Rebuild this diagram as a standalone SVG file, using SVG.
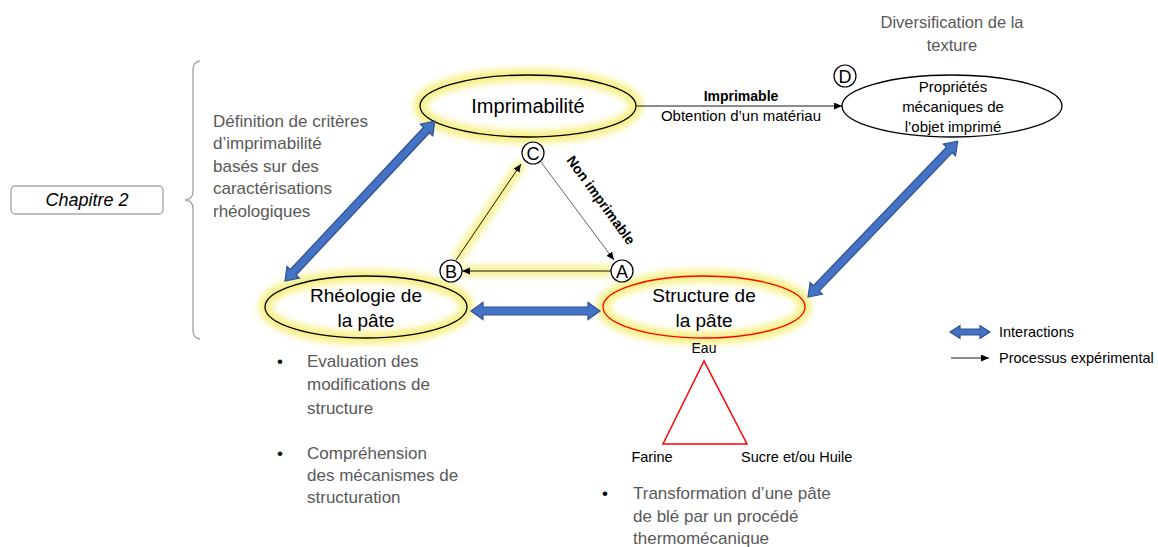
<svg xmlns="http://www.w3.org/2000/svg" width="1158" height="547" viewBox="0 0 1158 547">
<style>
text{font-family:"Liberation Sans",Arial,sans-serif;}
.node{font-size:19px;fill:#000;text-anchor:middle;}
.small{font-size:15px;fill:#000;text-anchor:middle;}
.gray{font-size:17px;fill:#595959;}
.grayc{font-size:16.5px;fill:#595959;text-anchor:middle;}
.lbl{font-size:14.5px;fill:#000;}
.letter{font-size:18px;fill:#000;text-anchor:middle;}
.ell{fill:none;stroke:#000;stroke-width:1.3;}
.glow{fill:none;stroke:#F3EC62;stroke-width:13;opacity:0.75;filter:url(#blur);}
.glowl{fill:none;stroke:#F3EC62;stroke-width:11;opacity:0.7;filter:url(#blur);}
.circ{fill:#fff;stroke:#000;stroke-width:1.2;}
.blue{fill:#4472C4;stroke:#2F528F;stroke-width:1.2;}
.thin{fill:none;stroke:#000;stroke-width:0.9;marker-end:url(#ah);}
</style>
<defs>
<filter id="blur" filterUnits="userSpaceOnUse" x="0" y="0" width="1158" height="547"><feGaussianBlur stdDeviation="3.2"/></filter>
<marker id="ah" markerUnits="userSpaceOnUse" markerWidth="9" markerHeight="8" refX="8" refY="3.5" orient="auto"><path d="M0,0 L8,3.5 L0,7 z" fill="#000"/></marker>
</defs>

<!-- glows -->
<g id="glows">
<ellipse class="glow" cx="528" cy="106" rx="108" ry="31"/>
<ellipse class="glow" cx="366" cy="307" rx="101" ry="31"/>
<ellipse class="glow" cx="704" cy="307" rx="101" ry="31"/>
<line class="glowl" x1="611" y1="271" x2="462" y2="271"/>
<line class="glowl" x1="456" y1="260" x2="522" y2="163"/>
</g>

<!-- Chapitre 2 -->
<g id="chapitre">
<rect x="11" y="186" width="152" height="28" rx="4" fill="#fff" stroke="#A6A6A6" stroke-width="1.3"/>
<text x="87" y="206" style="font-size:18px;font-style:italic;fill:#000;text-anchor:middle">Chapitre 2</text>
</g>
<g id="brace">
<path d="M200,61 Q193,62 193,70 L193,192 Q193,199 185,200 Q193,201 193,208 L193,330 Q193,338 200,339" fill="none" stroke="#A6A6A6" stroke-width="1.4"/>
</g>
<g id="definition">
<text class="gray" x="213" y="127">Définition de critères</text>
<text class="gray" x="213" y="149">d’imprimabilité</text>
<text class="gray" x="213" y="172">basés sur des</text>
<text class="gray" x="213" y="194">caractérisations</text>
<text class="gray" x="213" y="217">rhéologiques</text>
</g>

<!-- nodes -->
<g id="imprimabilite">
<ellipse class="ell" cx="528" cy="106" rx="108" ry="31"/>
<text class="node" x="528" y="113" style="font-size:20px">Imprimabilité</text>
</g>
<g id="proprietes">
<ellipse class="ell" cx="952" cy="106" rx="110" ry="31"/>
<text class="small" x="953" y="92">Propriétés</text>
<text class="small" x="953" y="112">mécaniques de</text>
<text class="small" x="953" y="132">l’objet imprimé</text>
</g>
<g id="diversification">
<text class="grayc" x="952" y="28">Diversification de la</text>
<text class="grayc" x="952" y="51">texture</text>
</g>
<g id="rheologie">
<ellipse class="ell" cx="366" cy="307" rx="101" ry="31"/>
<text class="node" x="366" y="302">Rhéologie de</text>
<text class="node" x="366" y="327">la pâte</text>
</g>
<g id="structure">
<ellipse class="ell" cx="704" cy="307" rx="101" ry="31" style="stroke:#FF0000"/>
<text class="node" x="704" y="302">Structure de</text>
<text class="node" x="704" y="327">la pâte</text>
</g>
<g id="ingredients">
<polygon points="704,361 663,444 747,444" fill="none" stroke="#FF0000" stroke-width="1.5"/>
<text class="lbl" x="704" y="353" style="text-anchor:middle;font-size:14px">Eau</text>
<text class="lbl" x="652" y="462" style="text-anchor:middle">Farine</text>
<text class="lbl" x="741" y="462">Sucre et/ou Huile</text>
</g>

<!-- connectors -->
<g id="connectors">
<line class="thin" x1="637" y1="106" x2="842" y2="106"/>
<line class="thin" x1="611" y1="271" x2="462" y2="271"/>
<line class="thin" x1="456" y1="260" x2="521" y2="164"/>
<line class="thin" x1="541" y1="162" x2="614" y2="260" style="stroke:#404040;stroke-width:0.8"/>
<polygon class="blue" transform="translate(285,281) rotate(-46.85)" points="0,0 12,-8.5 12,-4 207,-4 207,-8.5 219,0 207,8.5 207,4 12,4 12,8.5"/>
<polygon class="blue" transform="translate(808,297) rotate(-46.13)" points="0,0 12,-8.5 12,-4 204,-4 204,-8.5 216,0 204,8.5 204,4 12,4 12,8.5"/>
<polygon class="blue" transform="translate(471,311)" points="0,0 12,-8.5 12,-4 117,-4 117,-8.5 129,0 117,8.5 117,4 12,4 12,8.5"/>
</g>
<g id="connector-labels">
<text x="741" y="101" style="font-size:14px;font-weight:bold;fill:#000;text-anchor:middle">Imprimable</text>
<text x="741" y="121" style="font-size:15px;fill:#000;text-anchor:middle">Obtention d’un matériau</text>
<text transform="translate(597,203) rotate(54)" x="0" y="0" style="font-size:14px;font-weight:bold;fill:#000;text-anchor:middle">Non imprimable</text>
</g>

<!-- letters -->
<g id="A"><circle class="circ" cx="622" cy="271" r="11"/><text class="letter" x="622" y="277.5">A</text></g>
<g id="B"><circle class="circ" cx="451" cy="271" r="11"/><text class="letter" x="451" y="277.5">B</text></g>
<g id="C"><circle class="circ" cx="533" cy="153" r="11"/><text class="letter" x="533" y="159.5">C</text></g>
<g id="D"><circle class="circ" cx="845" cy="76" r="11"/><text class="letter" x="845" y="82.5">D</text></g>

<!-- bullets -->
<g id="bullets-rheologie">
<text class="gray" x="277" y="367" style="fill:#000">•</text>
<text class="gray" x="307" y="367">Evaluation des</text>
<text class="gray" x="307" y="390">modifications de</text>
<text class="gray" x="307" y="414">structure</text>
<text class="gray" x="277" y="459" style="fill:#000">•</text>
<text class="gray" x="307" y="459">Compréhension</text>
<text class="gray" x="307" y="481">des mécanismes de</text>
<text class="gray" x="307" y="503">structuration</text>
</g>
<g id="bullets-structure">
<text class="gray" x="602" y="499" style="fill:#000">•</text>
<text class="gray" x="633" y="499">Transformation d’une pâte</text>
<text class="gray" x="633" y="522">de blé par un procédé</text>
<text class="gray" x="633" y="544">thermomécanique</text>
</g>

<!-- legend -->
<g id="legend">
<polygon class="blue" transform="translate(950,332)" points="0,0 10,-6.5 10,-3 30,-3 30,-6.5 40,0 30,6.5 30,3 10,3 10,6.5"/>
<text class="lbl" x="999" y="337">Interactions</text>
<line class="thin" x1="951" y1="358" x2="989" y2="358"/>
<text class="lbl" x="999" y="363">Processus expérimental</text>
</g>
</svg>
